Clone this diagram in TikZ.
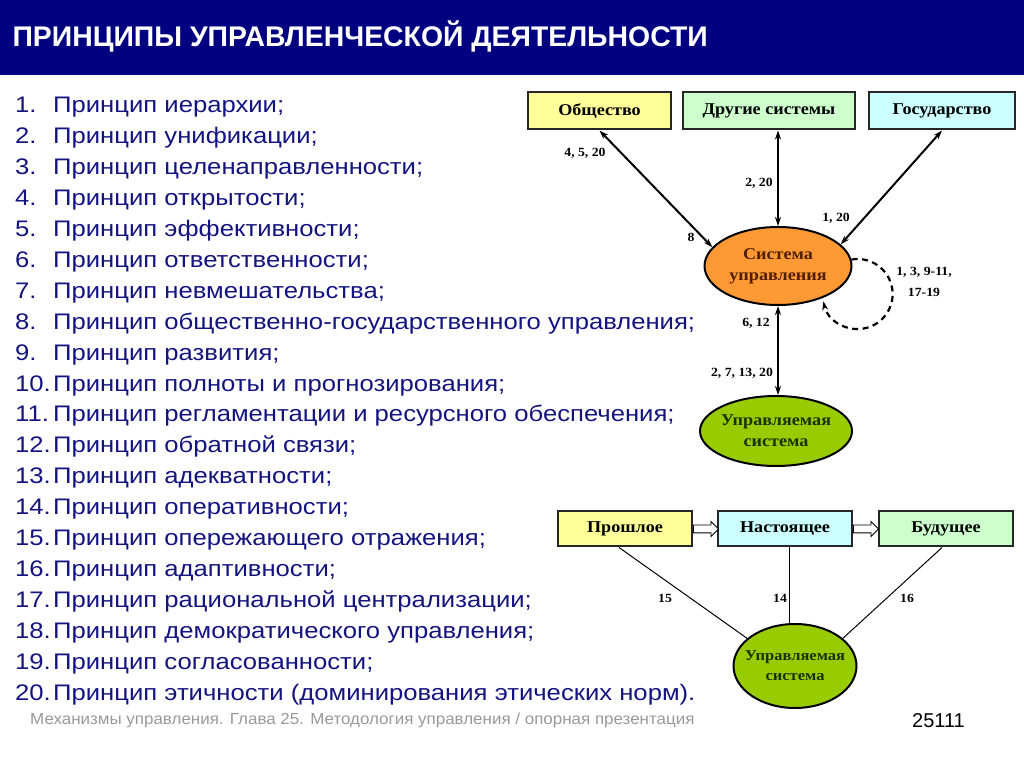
\documentclass[tikz,border=0pt]{standalone}
\usepackage{fontspec}
\setmainfont[FakeStretch=1.1]{Liberation Serif}
\newfontfamily\sansf{Liberation Sans}
\newfontfamily\listf[FakeStretch=1.14]{Liberation Sans}
\newfontfamily\footf[FakeStretch=1.06]{Liberation Sans}
\usetikzlibrary{shapes.geometric,shapes.arrows,arrows.meta}
\definecolor{titleblue}{RGB}{0,0,128}
\definecolor{listblue}{RGB}{20,20,128}
\definecolor{boxyellow}{RGB}{255,255,153}
\definecolor{boxgreen}{RGB}{204,255,204}
\definecolor{boxcyan}{RGB}{204,255,255}
\definecolor{sysorange}{RGB}{255,153,51}
\definecolor{uprgreen}{RGB}{153,204,0}
\definecolor{sysbrown}{RGB}{80,30,0}
\definecolor{uprdark}{RGB}{25,50,0}

\begin{document}
\begin{tikzpicture}[x=1pt,y=1pt,>={Stealth[length=9pt,width=6pt]},
    box/.style={draw=black!85,line width=2pt,minimum height=37pt,inner sep=0pt,
      font=\fontsize{16.5}{19}\selectfont\bfseries},
    oval/.style={ellipse,draw=black,line width=2pt,align=center,inner sep=0pt,
      font=\fontsize{16.5}{21}\selectfont\bfseries},
    lbl/.style={font=\fontsize{12.5}{15}\selectfont\bfseries},
    link/.style={<->,line width=2pt},
    tline/.style={line width=1pt},
    item/.style={anchor=base west,inner sep=0pt,text=listblue,font=\listf\fontsize{22.5}{26}\selectfont},
    harrow/.style={single arrow,draw=black,line width=0.9pt,fill=white,
      minimum height=25pt,minimum width=14pt,inner sep=3.5pt,single arrow head extend=3.5pt}]

  \useasboundingbox (0,0) rectangle (1024,767);

  % title bar
  \fill[titleblue] (0,692) rectangle (1024,767);
  \node[anchor=west,text=white,font=\sansf\fontsize{28.4}{30}\selectfont\bfseries]
    (title) at (9,731) {ПРИНЦИПЫ УПРАВЛЕНЧЕСКОЙ ДЕЯТЕЛЬНОСТИ};

  % list of principles
  \node[item] (p1) at (15,654) {\makebox[38pt][l]{1.}Принцип иерархии;};
  \node[item] (p2) at (15,623.1) {\makebox[38pt][l]{2.}Принцип унификации;};
  \node[item] (p3) at (15,592.2) {\makebox[38pt][l]{3.}Принцип целенаправленности;};
  \node[item] (p4) at (15,561.3) {\makebox[38pt][l]{4.}Принцип открытости;};
  \node[item] (p5) at (15,530.4) {\makebox[38pt][l]{5.}Принцип эффективности;};
  \node[item] (p6) at (15,499.5) {\makebox[38pt][l]{6.}Принцип ответственности;};
  \node[item] (p7) at (15,468.6) {\makebox[38pt][l]{7.}Принцип невмешательства;};
  \node[item] (p8) at (15,437.7) {\makebox[38pt][l]{8.}Принцип общественно-государственного управления;};
  \node[item] (p9) at (15,406.8) {\makebox[38pt][l]{9.}Принцип развития;};
  \node[item] (p10) at (15,375.9) {\makebox[38pt][l]{10.}Принцип полноты и прогнозирования;};
  \node[item] (p11) at (15,345.0) {\makebox[38pt][l]{11.}Принцип регламентации и ресурсного обеспечения;};
  \node[item] (p12) at (15,314.1) {\makebox[38pt][l]{12.}Принцип обратной связи;};
  \node[item] (p13) at (15,283.2) {\makebox[38pt][l]{13.}Принцип адекватности;};
  \node[item] (p14) at (15,252.3) {\makebox[38pt][l]{14.}Принцип оперативности;};
  \node[item] (p15) at (15,221.4) {\makebox[38pt][l]{15.}Принцип опережающего отражения;};
  \node[item] (p16) at (15,190.5) {\makebox[38pt][l]{16.}Принцип адаптивности;};
  \node[item] (p17) at (15,159.6) {\makebox[38pt][l]{17.}Принцип рациональной централизации;};
  \node[item] (p18) at (15,128.7) {\makebox[38pt][l]{18.}Принцип демократического управления;};
  \node[item] (p19) at (15,97.8) {\makebox[38pt][l]{19.}Принцип согласованности;};
  \node[item] (p20) at (15,66.9) {\makebox[38pt][l]{20.}Принцип этичности (доминирования этических норм).};

  % footer
  \node[anchor=base west,inner sep=0pt,text=black!40,font=\footf\fontsize{16}{18}\selectfont]
    (foot) at (30,42) {Механизмы управления. Глава 25. Методология управления / опорная презентация};
  \node[anchor=base west,inner sep=0pt,font=\sansf\fontsize{20}{24}\selectfont] (page) at (912,39) {25111};

  % upper diagram
  \node[box,fill=boxyellow,minimum width=143pt] (obsh) at (599.5,656) {Общество};
  \node[box,fill=boxgreen,minimum width=172pt] (drug) at (769,656) {Другие системы};
  \node[box,fill=boxcyan,minimum width=146pt] (gos) at (942,656) {Государство};
  \node[oval,fill=sysorange,text=sysbrown,minimum width=147pt,minimum height=78pt]
    (sys) at (778,501) {Система\\управления};
  \node[oval,fill=uprgreen,text=uprdark,inner xsep=-4pt,minimum width=152pt,minimum height=70pt]
    (upr) at (776,336) {Управляемая\\система};

  \draw[link] (obsh.south) -- (sys.164);
  \draw[link] (drug.south -| sys.north) -- (sys.north);
  \draw[link] (gos.south) -- (sys.19);
  \draw[link] (sys.south) -- (upr.north -| sys.south);
  \draw[->,line width=2.2pt,dash pattern=on 6pt off 4.5pt] (sys.5) arc[start angle=100,end angle=-168,radius=35];

  \node[lbl] (l1) at (585,614) {4, 5, 20};
  \node[lbl] (l2) at (691,530) {8};
  \node[lbl] (l3) at (759,584) {2, 20};
  \node[lbl] (l4) at (836,549) {1, 20};
  \node[lbl] (l5) at (924,495) {1, 3, 9-11,};
  \node[lbl] (l6) at (924,475) {17-19};
  \node[lbl] (l7) at (756,444) {6, 12};
  \node[lbl] (l8) at (742,394) {2, 7, 13, 20};

  % lower diagram
  \node[box,fill=boxyellow,minimum width=134pt,minimum height=35pt] (proshl) at (625,238) {Прошлое};
  \node[box,fill=boxcyan,minimum width=134pt,minimum height=35pt] (nast) at (785,238) {Настоящее};
  \node[box,fill=boxgreen,minimum width=134pt,minimum height=35pt] (bud) at (946,238) {Будущее};
  \node[oval,fill=uprgreen,text=uprdark,inner xsep=-12pt,minimum width=123pt,minimum height=84pt,
    font=\fontsize{15}{20}\selectfont\bfseries]
    (upr2) at (795,101) {Управляемая\\система};

  \node[harrow,anchor=tail] (a1) at (proshl.east) {};
  \node[harrow,anchor=tail] (a2) at (nast.east) {};

  \draw[tline] ([xshift=-6pt]proshl.south) -- (upr2.150);
  \draw[tline] ([xshift=4pt]nast.south) -- ([xshift=4pt]nast.south |- upr2.north);
  \draw[tline] ([xshift=-4pt]bud.south) -- (upr2.30);

  \node[lbl] (l9) at (665,169) {15};
  \node[lbl] (l10) at (780,169) {14};
  \node[lbl] (l11) at (907,169) {16};
\end{tikzpicture}
\end{document}
